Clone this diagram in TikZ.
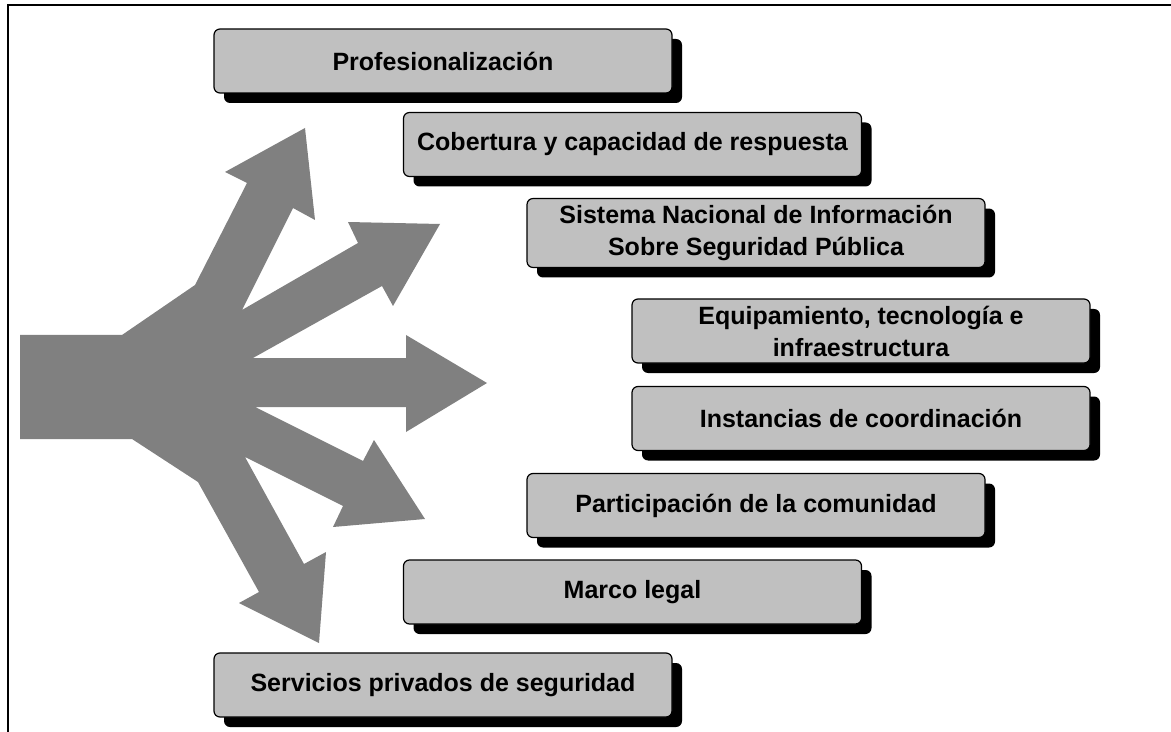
\documentclass[tikz,border=0pt]{standalone}
\usepackage{fontspec}
\setmainfont{Liberation Sans}
\usetikzlibrary{shadows}
\definecolor{boxgray}{HTML}{C0C0C0}
\definecolor{arrowgray}{HTML}{808080}

\begin{document}
\begin{tikzpicture}[
    x=0.5pt, y=-0.5pt,
    % --- estilos ---
    item box/.style={draw, line width=0.6pt, rounded corners=3pt, fill=boxgray,
        minimum width=229pt, minimum height=32pt, align=center,
        font=\bfseries\fontsize{12.5}{16}\selectfont,
        general shadow={fill=black, shadow xshift=5pt, shadow yshift=-5pt}},
    big arrow/.style={fill=arrowgray, draw=none},
    frame line/.style={line width=1pt}
]
    \useasboundingbox (0,0) rectangle (1171,732);

    % --- 1. marco (solo arriba e izquierda) ---
    \draw[frame line] (1171,5) -- (8,5) -- (8,732);

    % --- 2. flecha gris que se abre en cinco ---
    \fill[big arrow] (20,335) -- (122,335) -- (195,285)
        -- (247,183) -- (225,172) -- (305,128) -- (315,220) -- (293,208)   % hacia arriba
        -- (242,310)
        -- (358,243) -- (348,222) -- (440,224) -- (393,306) -- (382,286)   % diagonal arriba
        -- (253,358)
        -- (406,358) -- (406,335) -- (487,383) -- (406,432) -- (406,407)   % horizontal
        -- (255,407)
        -- (363,461) -- (374,440) -- (425,519) -- (333,527) -- (343,506)   % diagonal abajo
        -- (245,457)
        -- (304,564) -- (326,552) -- (319,643) -- (239,603) -- (259,592)   % hacia abajo
        -- (198,482) -- (132,439) -- (20,439) -- cycle;

    % --- 3. cajas ---
    \node[item box] (prof)  at (443,61)    {Profesionalización};
    \node[item box] (cober) at (632.5,144.5) {Cobertura y capacidad de respuesta};
    \node[item box] (sist)  at (756,233)   {Sistema Nacional de Información\\Sobre Seguridad Pública};
    \node[item box] (equip) at (861,331)   {Equipamiento, tecnología e\\infraestructura};
    \node[item box] (inst)  at (861,418.5) {Instancias de coordinación};
    \node[item box] (part)  at (756,505.5) {Participación de la comunidad};
    \node[item box] (marco) at (632.5,592) {Marco legal};
    \node[item box] (serv)  at (443,685)   {Servicios privados de seguridad};

\end{tikzpicture}
\end{document}
